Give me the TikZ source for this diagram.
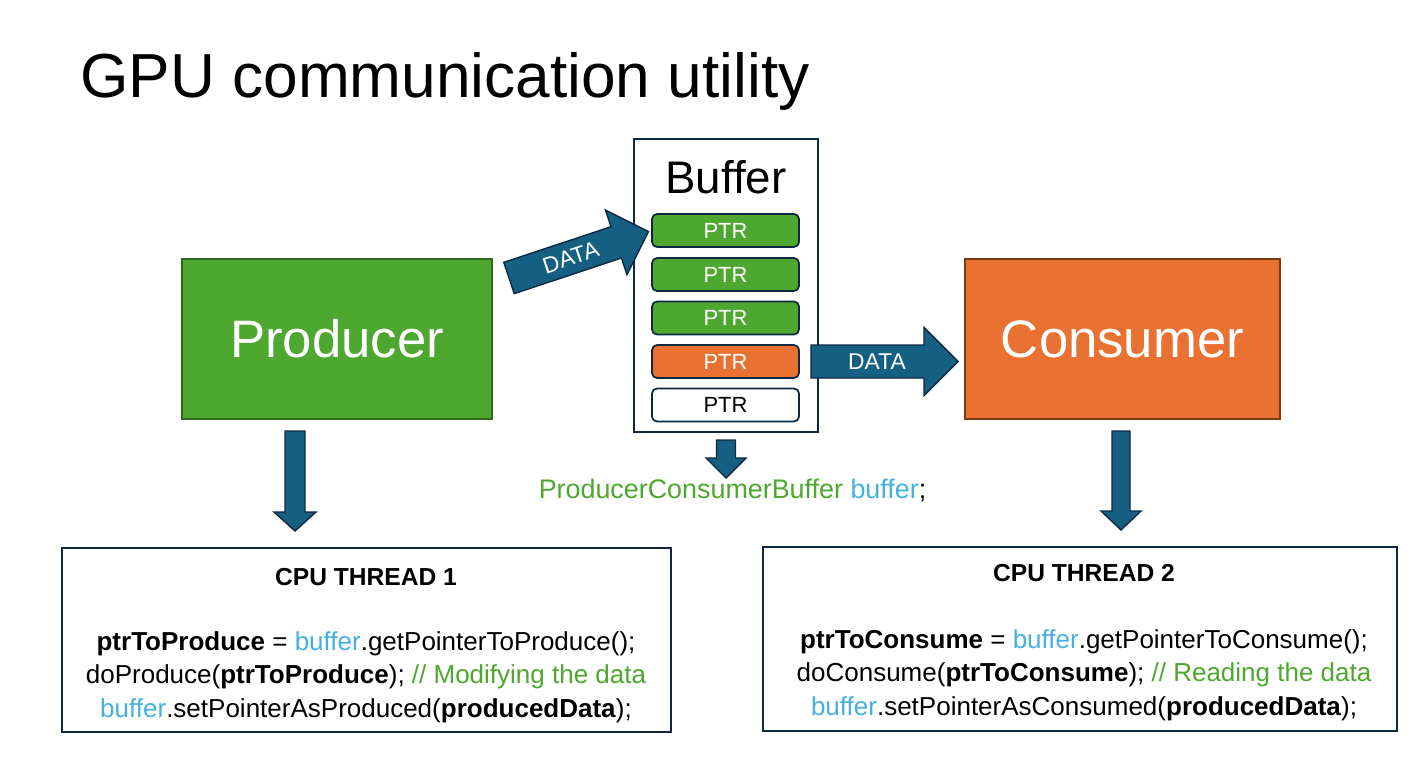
\documentclass[tikz,border=0pt]{standalone}
\usepackage{fontspec}
\setmainfont{Liberation Sans}

\definecolor{prodgreen}{HTML}{4EA72E}
\definecolor{prodborder}{HTML}{2F6B1E}
\definecolor{consorange}{HTML}{E97132}
\definecolor{consborder}{HTML}{7A3A12}
\definecolor{arrowblue}{HTML}{156082}
\definecolor{darknavy}{HTML}{0E2841}
\definecolor{codeblue}{HTML}{45B0E1}

\tikzset{
  bigbox/.style={draw, line width=1.2pt, minimum height=3.2cm, text=white, font=\fontsize{30}{36}\selectfont},
  ptr/.style={draw=darknavy, line width=1pt, rounded corners=0.1cm, minimum width=2.94cm, minimum height=0.66cm, inner sep=0pt, font=\fontsize{12.5}{15}\selectfont},
  blockarrow/.style={fill=arrowblue, draw=darknavy, line width=0.8pt},
  arrowlabel/.style={text=white, inner sep=0pt, font=\fontsize{13}{15}\selectfont},
  threadbox/.style={draw=darknavy, line width=1.2pt, minimum height=3.68cm},
  threadtitle/.style={inner sep=0pt, font=\bfseries\fontsize{14}{17}\selectfont},
  code/.style={align=center, inner sep=0pt, font=\fontsize{14.8}{19}\selectfont}
}

\newcommand{\bufword}{\textcolor{codeblue}{buffer}}

\begin{document}
\begin{tikzpicture}[x=0.02cm, y=-0.02cm]
\useasboundingbox (0,0) rectangle (1423,761);
\fill[white] (0,0) rectangle (1423,761);

%%%%%% Title %%%%%%
\node (title) at (80,97) [anchor=base west, inner sep=0pt, font=\fontsize{35.4}{42}\selectfont] {GPU communication utility};

%%%%%% Producer and Consumer %%%%%%
\node (prod) at (337,339) [bigbox, fill=prodgreen, draw=prodborder, minimum width=6.2cm] {Producer};
\node (cons) at (1122.5,339) [bigbox, fill=consorange, draw=consborder, minimum width=6.3cm] {Consumer};

%%%%%% Buffer %%%%%%
\node (buf) at (726,285.5) [draw=darknavy, line width=1.2pt, fill=white, minimum width=3.68cm, minimum height=5.86cm] {};
\node (buflabel) at (726,177) [font=\fontsize{26}{30}\selectfont] {Buffer};

\node (p1) at (725.5,230.5) [ptr, fill=prodgreen, text=white] {PTR};
\node (p2) at (725.5,274.5) [ptr, fill=prodgreen, text=white] {PTR};
\node (p3) at (725.5,318) [ptr, fill=prodgreen, text=white] {PTR};
\node (p4) at (725.5,361.5) [ptr, fill=consorange, text=white] {PTR};
\node (p5) at (725.5,405) [ptr, fill=white] {PTR};

%%%%%% DATA arrows %%%%%%
\begin{scope}[shift={(509,278)}, rotate=18.4]
\draw[blockarrow] (0,-16.5) -- (113,-16.5) -- (113,-34) -- (147,0) -- (113,34) -- (113,16.5) -- (0,16.5) -- cycle;
\node (data1) at (65,0) [arrowlabel, transform shape] {DATA};
\end{scope}

\begin{scope}[shift={(811,361.5)}]
\draw[blockarrow] (0,-16.5) -- (113,-16.5) -- (113,-34) -- (147,0) -- (113,34) -- (113,16.5) -- (0,16.5) -- cycle;
\node (data2) at (66,0) [arrowlabel] {DATA};
\end{scope}

%%%%%% Down arrows %%%%%%
\draw[blockarrow] (285,431) -- (305,431) -- (305,512) -- (316,512) -- (295,531) -- (274,512) -- (285,512) -- cycle;
\draw[blockarrow] (716.5,440) -- (735.5,440) -- (735.5,458) -- (746,458) -- (726,478) -- (706,458) -- (716.5,458) -- cycle;
\draw[blockarrow] (1112,431) -- (1130,431) -- (1130,511) -- (1141,511) -- (1121,530) -- (1101,511) -- (1112,511) -- cycle;

\node (decl) at (732.5,498) [anchor=base, inner sep=0pt, font=\fontsize{15.3}{18}\selectfont] {\textcolor{prodgreen}{ProducerConsumerBuffer} \bufword;};

%%%%%% CPU threads %%%%%%
\node (thread1) at (366.5,640) [threadbox, minimum width=12.18cm] {};
\node (title1) at (366,577) [threadtitle] {CPU THREAD 1};
\node (code1) at (366,677) [code] {\textbf{ptrToProduce} = \bufword.getPointerToProduce();\\
doProduce(\textbf{ptrToProduce}); \textcolor{prodgreen}{// Modifying the data}\\
\bufword.setPointerAsProduced(\textbf{producedData});};

\node (thread2) at (1080,639) [threadbox, minimum width=12.68cm] {};
\node (title2) at (1084,573) [threadtitle] {CPU THREAD 2};
\node (code2) at (1084,675) [code] {\textbf{ptrToConsume} = \bufword.getPointerToConsume();\\
doConsume(\textbf{ptrToConsume}); \textcolor{prodgreen}{// Reading the data}\\
\bufword.setPointerAsConsumed(\textbf{producedData});};

\end{tikzpicture}
\end{document}
